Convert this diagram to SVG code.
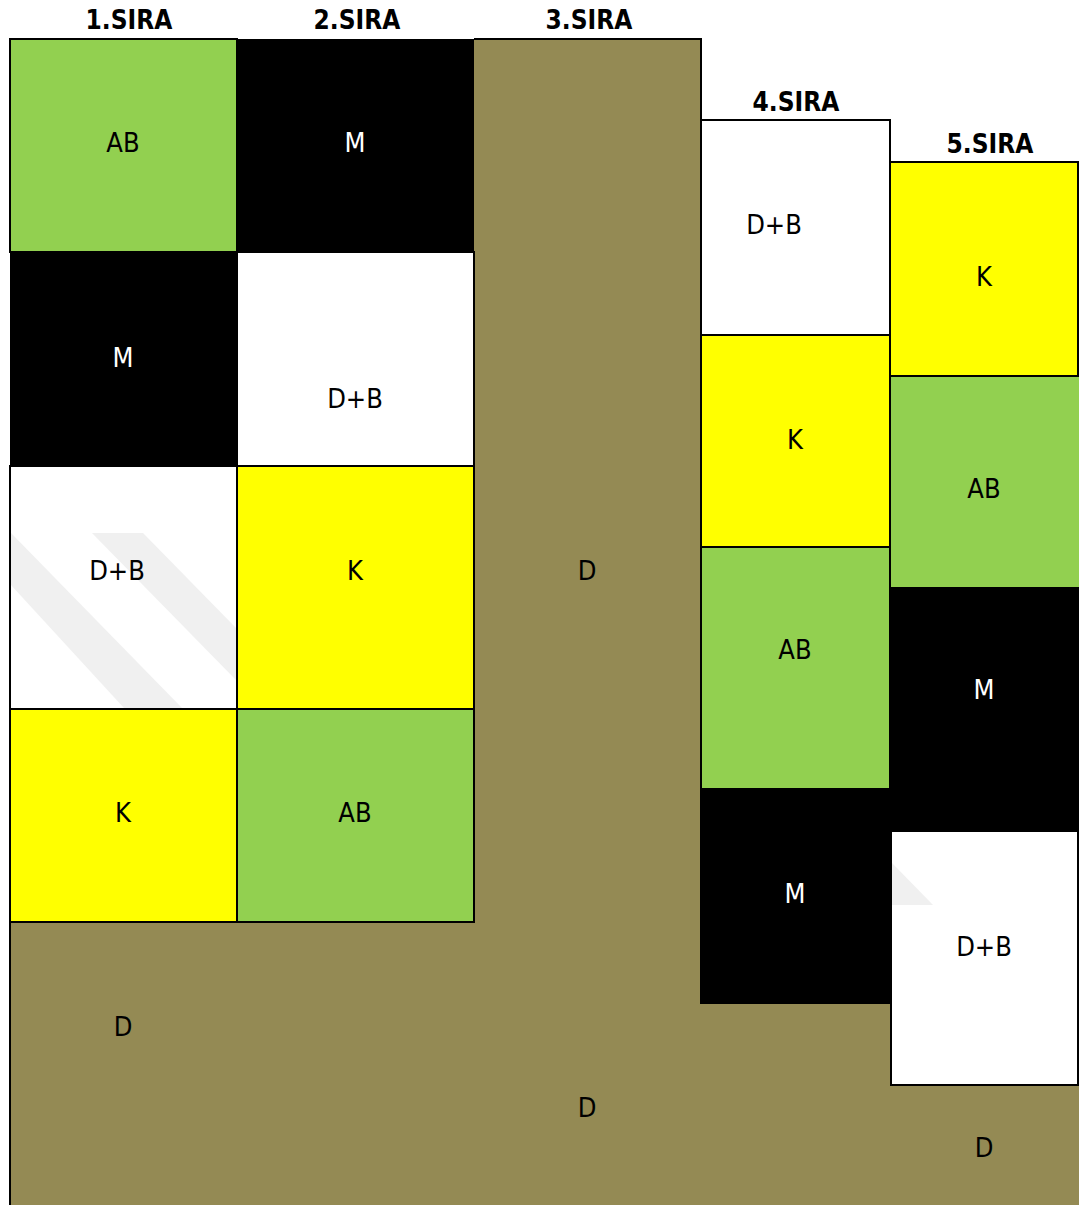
<svg xmlns="http://www.w3.org/2000/svg" width="1079" height="1205" viewBox="0 0 1079 1205">
<style>
.c{stroke:#000;stroke-width:2}
.g{fill:#92D050}.y{fill:#FFFF00}.w{fill:#FFFFFF}.k{fill:#000}.o{fill:#948A54}
text{font-family:"DejaVu Sans Condensed","DejaVu Sans",sans-serif;font-stretch:condensed;text-anchor:middle}
.h{font-size:26px;font-weight:bold;fill:#000}
.l{font-size:27px;fill:#000}
.lw{font-size:27px;fill:#fff}
.wm{fill:#F0F0F0}
</style>
<rect width="1079" height="1205" fill="#fff"/>
<g id="headers">
<text class="h" x="129" y="29">1.SIRA</text>
<text class="h" x="357" y="29">2.SIRA</text>
<text class="h" x="589" y="29">3.SIRA</text>
<text class="h" x="796" y="111">4.SIRA</text>
<text class="h" x="990" y="153">5.SIRA</text>
</g>
<g id="olive-D">
<polygon class="o" points="474,39 701,39 701,1003 890,1003 890,1085 1079,1085 1079,1205 10,1205 10,922 474,922"/>
<polyline points="474,39 701,39 701,120" fill="none" stroke="#000" stroke-width="2"/>
<line x1="10" y1="922" x2="10" y2="1205" stroke="#000" stroke-width="2"/>
<text class="l" x="587" y="580">D</text>
<text class="l" x="123" y="1036">D</text>
<text class="l" x="587" y="1117">D</text>
<text class="l" x="984" y="1157">D</text>
</g>
<g id="c1-AB"><rect class="c g" x="10" y="39" width="227" height="213"/><text class="l" x="123" y="152">AB</text></g>
<g id="c1-M"><rect class="k" x="10" y="252" width="227" height="214"/><text class="lw" x="123" y="367">M</text></g>
<g id="c1-DB"><rect class="c w" x="10" y="466" width="227" height="243"/>
<polygon class="wm" points="11,533 11,585 124,708 182,708"/>
<polygon class="wm" points="92,533 143,533 236,628 236,680"/>
<text class="l" x="117" y="580">D+B</text></g>
<g id="c1-K"><rect class="c y" x="10" y="709" width="227" height="213"/><text class="l" x="123" y="822">K</text></g>
<g id="c2-M"><rect class="k" x="237" y="39" width="237" height="213"/><text class="lw" x="355" y="152">M</text></g>
<g id="c2-DB"><rect class="c w" x="237" y="252" width="237" height="214"/><text class="l" x="355" y="408">D+B</text></g>
<g id="c2-K"><rect class="c y" x="237" y="466" width="237" height="243"/><text class="l" x="355" y="580">K</text></g>
<g id="c2-AB"><rect class="c g" x="237" y="709" width="237" height="213"/><text class="l" x="355" y="822">AB</text></g>
<g id="c4-DB"><rect class="c w" x="701" y="120" width="189" height="215"/><text class="l" x="774" y="234">D+B</text></g>
<g id="c4-K"><rect class="c y" x="701" y="335" width="189" height="212"/><text class="l" x="795" y="449">K</text></g>
<g id="c4-AB"><rect class="c g" x="701" y="547" width="189" height="242"/><text class="l" x="795" y="659">AB</text></g>
<g id="c4-M"><rect class="k" x="700" y="789" width="190" height="215"/><text class="lw" x="795" y="903">M</text></g>
<g id="c5-K"><rect class="c y" x="890" y="162" width="188" height="214"/><text class="l" x="984" y="286">K</text></g>
<g id="c5-AB"><rect class="g" x="890" y="376" width="189" height="211"/><line x1="890" y1="376" x2="1079" y2="376" stroke="#000" stroke-width="2"/><line x1="890" y1="376" x2="890" y2="587" stroke="#000" stroke-width="2"/><text class="l" x="984" y="498">AB</text></g>
<g id="c5-M"><rect class="k" x="889" y="587" width="190" height="244"/><text class="lw" x="984" y="699">M</text></g>
<g id="c5-DB"><rect class="c w" x="891" y="831" width="187" height="254"/>
<polygon class="wm" points="892,863 892,905 933,905"/>
<text class="l" x="984" y="956">D+B</text></g>
<g id="connectors"/>
</svg>
